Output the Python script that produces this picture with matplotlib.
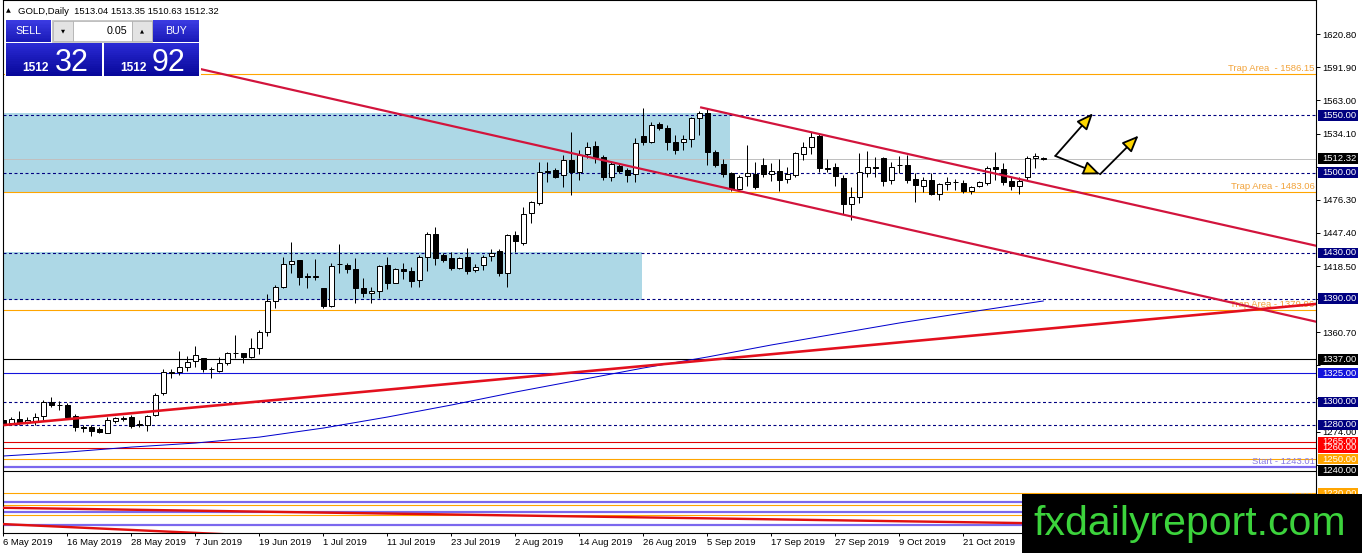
import matplotlib
matplotlib.use("Agg")
import matplotlib.pyplot as plt
from matplotlib.patches import Rectangle
import numpy as np

plt.rcParams['font.family'] = ['Liberation Sans', 'DejaVu Sans']

W, H, DPI = 1362, 553, 100

# ---------------- data ----------------
opens = [1284.0, 1281.2, 1284.7, 1282.1, 1283.5, 1287.6, 1300.1, 1297.4, 1297.2, 1287.6,
         1277.6, 1277.7, 1276.0, 1273.1, 1283.5, 1285.3, 1286.5, 1279.8, 1279.8, 1288.5,
         1307.4, 1325.5, 1325.7, 1330.7, 1335.3, 1338.0, 1328.7, 1327.2, 1333.6, 1342.3,
         1342.3, 1339.4, 1346.7, 1360.7, 1388.3, 1400.5, 1420.3, 1423.8, 1409.5, 1409.3,
         1399.1, 1383.7, 1420.0, 1419.4, 1415.7, 1399.1, 1395.3, 1397.0, 1419.4, 1404.0,
         1415.9, 1414.1, 1406.3, 1426.6, 1446.4, 1428.1, 1425.2, 1417.0, 1426.1, 1415.0,
         1419.4, 1427.2, 1431.9, 1412.7, 1445.6, 1438.9, 1465.0, 1473.2, 1500.8, 1502.3,
         1497.9, 1511.0, 1500.8, 1516.3, 1523.2, 1513.4, 1495.9, 1505.8, 1502.3, 1498.8,
         1532.0, 1527.0, 1542.4, 1538.7, 1527.0, 1526.4, 1529.1, 1547.4, 1551.8, 1518.3,
         1507.5, 1499.4, 1485.5, 1497.1, 1498.9, 1506.7, 1498.9, 1501.5, 1494.2, 1498.0,
         1516.3, 1522.1, 1532.0, 1503.8, 1504.7, 1495.1, 1472.7, 1478.5, 1500.0, 1504.7,
         1512.5, 1493.6, 1506.7, 1506.7, 1494.2, 1488.3, 1493.6, 1481.4, 1490.1, 1491.5,
         1491.3, 1484.3, 1488.3, 1491.3, 1504.7, 1502.9, 1493.0, 1488.3, 1495.9, 1512.5,
         1513.04]
highs = [1286.5, 1286.5, 1292.0, 1286.5, 1290.0, 1301.6, 1303.9, 1301.0, 1299.3, 1289.4,
         1279.8, 1279.8, 1277.7, 1286.5, 1286.5, 1287.6, 1288.5, 1284.0, 1288.5, 1308.0,
         1328.4, 1328.4, 1344.7, 1340.0, 1348.7, 1338.5, 1330.7, 1339.4, 1343.8, 1358.3,
         1343.0, 1355.4, 1362.7, 1393.8, 1402.0, 1426.7, 1439.8, 1424.0, 1412.2, 1424.4,
         1399.5, 1420.9, 1437.8, 1421.5, 1425.3, 1407.8, 1400.5, 1419.4, 1426.6, 1416.5,
         1420.8, 1417.9, 1428.1, 1448.5, 1452.8, 1430.1, 1431.0, 1426.1, 1433.9, 1420.2,
         1428.1, 1433.0, 1433.0, 1446.4, 1449.0, 1469.7, 1475.5, 1509.6, 1509.6, 1503.8,
         1515.4, 1535.8, 1519.8, 1527.0, 1527.9, 1515.4, 1509.6, 1508.1, 1503.8, 1530.0,
         1556.1, 1544.5, 1544.5, 1541.6, 1532.9, 1532.9, 1548.9, 1554.1, 1556.1, 1519.8,
         1512.0, 1500.9, 1498.0, 1524.2, 1509.6, 1512.5, 1508.2, 1511.7, 1505.3, 1518.4,
         1527.1, 1535.8, 1534.4, 1511.7, 1508.2, 1498.0, 1487.8, 1516.9, 1519.2, 1513.4,
         1513.4, 1509.6, 1514.5, 1515.4, 1499.4, 1495.9, 1499.4, 1491.3, 1495.9, 1494.2,
         1493.6, 1488.3, 1493.0, 1505.8, 1518.3, 1508.1, 1495.9, 1496.5, 1514.5, 1516.9,
         1513.35]
lows = [1279.5, 1279.8, 1279.8, 1280.6, 1279.8, 1284.1, 1295.8, 1293.0, 1285.6, 1274.8,
        1274.0, 1270.2, 1272.5, 1272.5, 1281.8, 1283.5, 1276.9, 1278.3, 1274.8, 1287.6,
        1306.0, 1320.5, 1323.4, 1327.2, 1330.7, 1326.3, 1320.5, 1326.3, 1332.1, 1338.0,
        1333.6, 1338.0, 1341.7, 1357.5, 1382.2, 1399.1, 1412.2, 1402.0, 1399.1, 1406.4,
        1381.6, 1383.1, 1412.2, 1412.2, 1386.6, 1391.8, 1386.0, 1390.3, 1398.1, 1403.4,
        1406.9, 1400.4, 1399.9, 1414.4, 1419.4, 1422.3, 1415.0, 1415.6, 1411.5, 1413.5,
        1415.0, 1423.2, 1409.8, 1400.4, 1431.0, 1436.8, 1456.3, 1471.7, 1492.1, 1495.0,
        1487.7, 1480.5, 1493.6, 1512.5, 1508.1, 1493.6, 1493.0, 1500.0, 1492.1, 1492.1,
        1524.1, 1525.6, 1537.2, 1519.8, 1516.3, 1519.8, 1522.7, 1532.9, 1506.6, 1505.2,
        1496.5, 1484.3, 1484.9, 1488.4, 1485.5, 1496.5, 1493.0, 1484.3, 1490.7, 1496.5,
        1511.1, 1516.3, 1500.9, 1500.9, 1488.4, 1463.9, 1458.7, 1473.8, 1496.0, 1496.5,
        1488.4, 1490.0, 1499.4, 1490.7, 1474.7, 1483.4, 1480.5, 1476.1, 1484.9, 1484.9,
        1482.0, 1481.4, 1487.2, 1489.2, 1493.6, 1489.2, 1484.9, 1481.4, 1493.6, 1503.8,
        1510.63]
closes = [1281.0, 1284.7, 1281.8, 1284.1, 1286.5, 1300.1, 1297.2, 1297.0, 1287.0, 1278.3,
          1277.4, 1274.8, 1273.7, 1284.1, 1285.6, 1285.9, 1278.9, 1280.3, 1287.6, 1306.0,
          1326.3, 1326.0, 1330.1, 1335.0, 1340.6, 1328.4, 1328.4, 1333.6, 1342.3, 1342.6,
          1339.4, 1346.7, 1360.7, 1388.3, 1399.9, 1420.3, 1423.2, 1409.3, 1409.3, 1409.6,
          1383.7, 1418.6, 1420.3, 1415.7, 1399.1, 1395.3, 1397.0, 1418.9, 1403.4, 1415.6,
          1414.1, 1405.7, 1426.6, 1446.4, 1425.2, 1423.7, 1416.5, 1425.2, 1414.4, 1417.9,
          1426.6, 1430.1, 1412.1, 1445.6, 1440.6, 1463.9, 1474.0, 1500.8, 1501.2, 1496.5,
          1511.0, 1500.8, 1515.4, 1522.7, 1513.9, 1495.9, 1507.5, 1501.7, 1497.9, 1526.2,
          1527.0, 1541.6, 1538.7, 1527.0, 1519.8, 1529.1, 1547.4, 1551.8, 1518.3, 1506.6,
          1498.8, 1485.5, 1496.5, 1499.4, 1487.8, 1498.9, 1501.5, 1493.6, 1498.9, 1516.9,
          1522.1, 1530.9, 1503.8, 1503.5, 1497.1, 1472.7, 1479.1, 1500.9, 1504.7, 1504.4,
          1493.0, 1505.3, 1506.9, 1493.6, 1489.2, 1493.6, 1481.4, 1490.1, 1491.5, 1491.8,
          1484.3, 1487.2, 1491.5, 1503.8, 1503.2, 1492.1, 1488.3, 1493.0, 1512.5, 1514.5,
          1512.32]

date_tick_pos = [0, 8, 16, 24, 32, 40, 48, 56, 64, 72, 80, 88, 96, 104, 112, 120]
date_tick_labels = ["6 May 2019", "16 May 2019", "28 May 2019", "7 Jun 2019", "19 Jun 2019",
                    "1 Jul 2019", "11 Jul 2019", "23 Jul 2019", "2 Aug 2019", "14 Aug 2019",
                    "26 Aug 2019", "5 Sep 2019", "17 Sep 2019", "27 Sep 2019", "9 Oct 2019",
                    "21 Oct 2019"]
price_ticks = [1620.80, 1591.90, 1563.00, 1534.10, 1505.20, 1476.30, 1447.40, 1418.50,
               1389.60, 1360.70, 1331.80, 1302.90, 1274.00, 1245.10, 1216.20]
# tick values whose labels sit under the level boxes / watermark (illegible in the chart)
covered_ticks = [1505.20, 1389.60, 1331.80, 1302.90, 1245.10, 1216.20]

# moving average read at a set of bars
ma_bars = [0, 8, 16, 24, 32, 40, 48, 56, 64, 72, 80, 88, 96, 104, 112, 120, 130]
ma_vals = [1252.7, 1256.1, 1260.5, 1264.0, 1269.2, 1277.1, 1286.7, 1297.2, 1308.5, 1319.0,
           1329.5, 1339.1, 1349.6, 1359.2, 1368.8, 1377.5, 1388.0]

# horizontal levels
dashed_levels = [1550.0, 1500.0, 1430.0, 1390.0, 1300.0, 1280.0]
solid_levels = [1337.0, 1325.0, 1265.0, 1260.0, 1250.0, 1240.0, 1220.0, 1210.2, 1200.9]
solid_colors = ['black', '#1414DC', '#E00000', '#E00000', '#FFA500', 'black', '#FFA500',
                '#FFA500', '#FFA500']
trap_levels = [1586.15, 1483.06, 1379.96]
trap_texts = ["Trap Area  - 1586.15", "Trap Area - 1483.06", "Trap Area - 1379.96"]
start_level = 1243.01
purple_levels = [1212.8, 1203.5, 1192.9]
last_price = 1512.32

# axis label boxes (price, colour)
box_prices = [1550.0, 1500.0, 1512.32, 1430.0, 1390.0, 1337.0, 1325.0, 1300.0, 1280.0,
              1260.0, 1265.0, 1250.0, 1240.0, 1220.0]
box_colors = ['#000080', '#000080', 'black', '#000080', '#000080', 'black', '#1414DC',
              '#000080', '#000080', '#FF0000', '#FF0000', '#FFA500', 'black', '#FFA500']

# zones (bar_start, bar_end, price_low, price_high)
zones = [(-5, 90.85, 1483.5, 1552.5), (-5, 79.85, 1388.8, 1431.0)]

# trend lines (bars, prices)
desc_main = ([24.6, 165.0], [1590.5, 1368.5])
desc_upper = ([87.1, 165.0], [1557.1, 1434.8])
asc_line = ([0.0, 165.0], [1279.7, 1386.0])
low_red_a = ([-1.0, 128.0], [1207.6, 1194.1])
low_red_b = ([-1.0, 30.0], [1193.6, 1183.7])

# arrows (from bar, from price, to bar, to price)
arrows = [(131.5, 1514.6, 136.2, 1551.8),
          (131.5, 1514.6, 137.1, 1498.6),
          (137.1, 1498.6, 141.9, 1532.3)]

# ---------------- figure ----------------
fig = plt.figure(figsize=(W / DPI, H / DPI), dpi=DPI)
fig.patch.set_facecolor('white')
ax = fig.add_axes([3 / W, 20 / H, 1313 / W, 533 / H])
ax.set_facecolor('white')
ax.set_xlim(-0.04, 164.09)
ax.set_ylim(1185.5, 1650.7)

for b0, b1, p0, p1 in zones:
    ax.add_patch(Rectangle((b0, p0), b1 - b0, p1 - p0, fc='#ADD8E6', ec='none', zorder=1))

PX = 0.72  # one pixel in points
for p in dashed_levels:
    ax.axhline(p, color='#000080', lw=PX * 1.1, ls=(0, (2.7, 2.3)), zorder=1.5)
for p, col in zip(solid_levels, solid_colors):
    ax.axhline(p, color=col, lw=PX * 1.1, zorder=1.5)
for p, t in zip(trap_levels, trap_texts):
    ax.axhline(p, color='#FFA500', lw=PX * 1.1, zorder=1.5)
    ax.text(163.9, p + 0.9, t, ha='right', va='bottom', color='#F2A33A', fontsize=6.8, zorder=2)
ax.axhline(start_level, color='#7B68EE', lw=PX * 2.2, zorder=1.5)
ax.text(163.9, start_level + 1.4, "Start - 1243.01", ha='right', va='bottom', color='#8A7BE6',
        fontsize=6.8, zorder=2)
for p in purple_levels:
    ax.axhline(p, color='#7B68EE', lw=PX * 2.2, zorder=1.5)
ax.text(163.9, 1217.4, "61.8%", ha='right', va='center', color='#A0A0A0', fontsize=6.8, zorder=2)
ax.axhline(last_price, color='#C0C0C0', lw=PX * 1.0, zorder=1.6)

# moving average
ax.plot(ma_bars, ma_vals, color='#0000CD', lw=PX * 1.0, zorder=2.5)

# candles
x = np.arange(len(opens))
o = np.array(opens); h = np.array(highs); l = np.array(lows); c = np.array(closes)
up = c >= o
ax.vlines(x, l, h, color='black', lw=PX * 1.0, zorder=3)
ax.bar(x[up], c[up] - o[up], bottom=o[up], width=0.62, facecolor='white', edgecolor='black',
       linewidth=PX * 1.0, zorder=3.1)
ax.bar(x[~up], o[~up] - c[~up], bottom=c[~up], width=0.62, facecolor='black', edgecolor='black',
       linewidth=PX * 1.0, zorder=3.1)

# trend lines
ax.plot(*desc_main, color='#D2143C', lw=PX * 2.2, zorder=4, solid_capstyle='butt')
ax.plot(*desc_upper, color='#D2143C', lw=PX * 2.2, zorder=4, solid_capstyle='butt')
ax.plot(*asc_line, color='#E3101E', lw=PX * 2.6, zorder=4.1, solid_capstyle='butt')
ax.plot(*low_red_a, color='#E01010', lw=PX * 2.4, zorder=4)
ax.plot(*low_red_b, color='#E01010', lw=PX * 2.4, zorder=4)

for x0, y0, x1, y1 in arrows:
    ax.annotate('', xy=(x1, y1), xytext=(x0, y0),
                arrowprops=dict(arrowstyle='-|>,head_length=1.0,head_width=0.42',
                                fc='#FFD700', ec='black', lw=1.3, mutation_scale=10,
                                shrinkA=0, shrinkB=0), zorder=5)

# axes styling
for s in ax.spines.values():
    s.set_color('black')
    s.set_linewidth(0.8)
ax.yaxis.tick_right()
ax.set_yticks(price_ticks)
ax.set_yticklabels(["" if v in covered_ticks else "%.2f" % v for v in price_ticks])
ax.tick_params(axis='y', direction='out', length=2.9, width=0.7, pad=1.6, labelsize=6.8,
               colors='black')
ax.set_xticks(date_tick_pos)
ax.set_xticklabels(date_tick_labels, ha='left')
ax.tick_params(axis='x', direction='out', length=2.4, width=0.7, pad=1.5, labelsize=6.8,
               colors='black')

# right-axis level boxes
ytr = ax.get_yaxis_transform()
box_h = 10.4 / 1.1457
for p, col in zip(box_prices, box_colors):
    ax.add_patch(Rectangle((1.0017, p - box_h / 2), 0.0306, box_h, transform=ytr, fc=col,
                           ec='none', clip_on=False, zorder=6))
    ax.text(1.0047, p, "%.2f" % p, transform=ytr, ha='left', va='center', color='white',
            fontsize=6.8, clip_on=False, zorder=6.1)

# ---------------- overlay panel (figure pixels) ----------------
def prect(x0, y0, x1, y1, z=20, **kw):
    fig.add_artist(Rectangle((x0 / W, 1 - y1 / H), (x1 - x0) / W, (y1 - y0) / H,
                             transform=fig.transFigure, zorder=z, **kw))

def ptext(xp, yp, s, z=21, **kw):
    fig.text(xp / W, 1 - yp / H, s, zorder=z, **kw)

def pgrad(x0, y0, x1, y1, top, bottom, n=16, z=20):
    t = np.array(matplotlib.colors.to_rgb(top))
    b = np.array(matplotlib.colors.to_rgb(bottom))
    step = (y1 - y0) / n
    for k in range(n):
        f = k / (n - 1)
        prect(x0, y0 + k * step, x1, y0 + (k + 1) * step + 0.3, z=z,
              fc=tuple(t * (1 - f) + b * f), ec='none')

ptext(6, 11, "\u25B2", fontsize=4.5, va='center', ha='left', family=['DejaVu Sans'])
ptext(18, 11, "GOLD,Daily  1513.04 1513.35 1510.63 1512.32", fontsize=6.8, va='center',
      ha='left', color='black')

prect(5, 19, 200.5, 77, fc='white', ec='none', z=19)
pgrad(6, 20, 50.7, 41.7, '#3B3BE2', '#1A1AB8')
ptext(28.3, 31, "SELL", color='white', fontsize=7.7, ha='center', va='center')
prect(52, 20, 152.2, 41.5, fc='#F0F0F0', ec='#B4B4B4', lw=0.5)
prect(52.7, 20.7, 72.7, 40.7, fc='#E3E3E3', ec='#A8A8A8', lw=0.5)
ptext(62.7, 30.7, "\u25BC", fontsize=3.8, ha='center', va='center', family=['DejaVu Sans'])
prect(72.7, 20.7, 131.7, 40.7, fc='white', ec='#A8A8A8', lw=0.5)
ptext(127.5, 30.7, "0.05", fontsize=7.7, ha='right', va='center', color='black')
prect(131.7, 20.7, 151.7, 40.7, fc='#E3E3E3', ec='#A8A8A8', lw=0.5)
ptext(141.7, 30.7, "\u25B2", fontsize=3.8, ha='center', va='center', family=['DejaVu Sans'])
pgrad(152.7, 20, 199, 41.7, '#3B3BE2', '#1A1AB8')
ptext(175.8, 31, "BUY", color='white', fontsize=7.7, ha='center', va='center')
pgrad(6, 42.7, 101.7, 76, '#2A2AD4', '#08089A')
pgrad(104.3, 42.7, 199, 76, '#2A2AD4', '#08089A')
ptext(22.7, 71, "1512", color='white', fontsize=8.6, fontweight='bold', ha='left', va='baseline')
ptext(55, 71, "32", color='white', fontsize=22, ha='left', va='baseline')
ptext(120.7, 71, "1512", color='white', fontsize=8.6, fontweight='bold', ha='left', va='baseline')
ptext(151.7, 71, "92", color='white', fontsize=22, ha='left', va='baseline')

# watermark
prect(1022, 494, 1362, 553, fc='black', ec='none', z=30)
ptext(1190, 535, "fxdailyreport.com", z=31, color='#3CD33C', fontsize=29.5, ha='center',
      va='baseline')

fig.savefig("out.png", dpi=DPI)
